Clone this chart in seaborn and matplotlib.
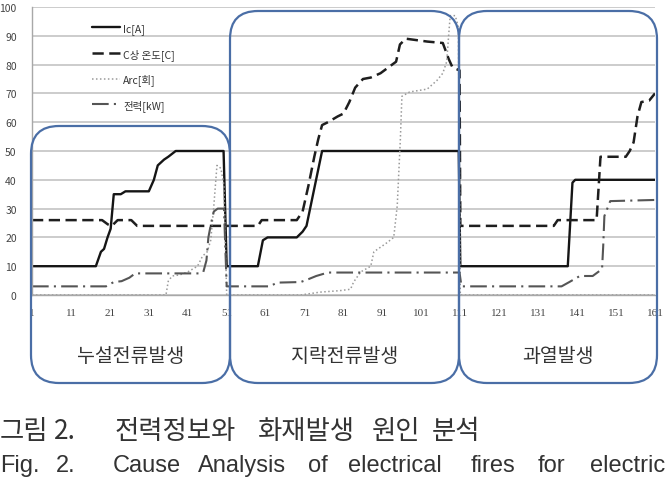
"""Electrical fire cause analysis chart (Ic, phase temperature, arc, power)."""

import matplotlib.pyplot as plt
import numpy as np
import seaborn as sns
from matplotlib.patches import FancyBboxPatch
from matplotlib.ticker import FixedLocator

# Ic[A]
ic_x = [1, 17.4, 18.7, 19.5, 20.4, 21.2, 22, 23.8, 25, 31, 32.3, 33.3, 34.9, 36, 37.9,
        50.2, 51, 59, 60.3, 61.5, 69, 70.5, 71.5, 75.5, 110.6, 111, 138.6, 139.8, 140.5, 161]
ic_y = [10, 10, 15, 16, 20, 23, 35, 35, 36, 36, 40, 45, 47, 48, 50,
        50, 10, 10, 19, 20, 20, 22, 24, 50, 50, 10, 10, 39, 40, 40]

# C상 온도[C]
temp_x = [1, 19, 20.5, 21.5, 23, 26.5, 28, 59, 60, 69, 70.5, 72, 73.5, 74.5, 75.5, 77,
          79.5, 81, 82.5, 84, 86, 88, 90.5, 93.5, 94.5, 95.5, 97, 102.5, 106.5, 108, 109,
          110.8, 111, 135, 136, 146, 147, 153.5, 154.5, 155.5, 156.5, 157.5, 159.5, 161]
temp_y = [26, 26, 24.5, 24, 26, 26, 24, 24, 26, 26, 29, 38, 48, 54, 59, 60,
          62, 63, 67, 72, 75, 75.5, 77, 80, 81, 87, 89, 88, 87.5, 82, 79,
          78, 24, 24, 26, 26, 48, 48, 50, 53, 62, 67, 67.5, 70]

# Arc[회]
arc_x = [1, 35.4, 36, 37, 39, 41, 43.5, 44.8, 46, 46.9, 47.7, 48.5, 49.5, 50.3, 51,
         70, 75, 80, 82.8, 83.6, 85.4, 88, 88.8, 92, 93.9, 94.8, 95.6, 96, 98, 102.5,
         105, 106.5, 107.5, 108, 108.4, 109.7, 110.5, 111, 161]
arc_y = [0, 0, 4.8, 6.6, 7, 8, 10, 13.5, 15, 19, 31, 45, 44, 38, 0,
         0, 1, 1.5, 2, 4.5, 8, 10, 15, 18, 20, 31, 54, 69, 70.5, 71.5,
         74.5, 77, 81, 90, 97, 97, 93, 0, 0]

# 전력[kW]
power_x = [1, 20, 22, 24, 26, 27.5, 44, 45, 45.8, 46.3, 47, 47.7, 48.7, 50.3, 51,
           62, 64, 70, 72, 74, 77, 110.8, 111.3, 137, 139, 141.7, 145, 147.4, 147.7,
           148, 149.5, 161]
power_y = [3, 3, 4.5, 4.8, 6, 7.5, 7.5, 8, 12, 20, 25, 29, 30, 30, 3,
           3, 4.3, 4.5, 5.5, 6.6, 7.8, 7.8, 3, 3, 4.5, 6.6, 6.6, 9, 17,
           27.4, 32.6, 33]

series_labels = ["Ic[A]", "C상 온도[C]", "Arc[회]", "전력[kW]"]
section_labels = ["누설전류발생", "지락전류발생", "과열발생"]
caption_ko = ["그림", "2.", "전력정보와", "화재발생", "원인", "분석"]
caption_en = ["Fig.", "2.", "Cause", "Analysis", "of", "electrical", "fires", "for", "electric"]

sns.set_style("white")
plt.rcParams["font.family"] = ["Noto Sans CJK KR", "DejaVu Sans"]

fig = plt.figure(figsize=(6.66, 4.85), dpi=100)
ax = fig.add_axes([32 / 666, 189 / 485, 623 / 666, 288 / 485])

styles = [
    dict(color="#151515", linewidth=1.7, linestyle="-"),
    dict(color="#1e1e1e", linewidth=1.8, linestyle=(0, (4.5, 2.2))),
    dict(color="#9a9a9a", linewidth=1.1, linestyle=(0, (1, 1.6))),
    dict(color="#555555", linewidth=1.5, linestyle=(0, (8, 2.5, 1, 2.5))),
]
data = [(ic_x, ic_y), (temp_x, temp_y), (arc_x, arc_y), (power_x, power_y)]
for (xs, ys), label, style in zip(data, series_labels, styles):
    sns.lineplot(x=xs, y=ys, ax=ax, label=label, estimator=None, sort=False, **style)

ax.set_xlim(1, 161)
ax.set_ylim(0, 100)
ax.set_xticks(range(1, 162, 10))
ax.xaxis.set_minor_locator(FixedLocator(np.arange(1, 161, 10 / 3)))
ax.set_yticks(range(0, 101, 10))
ax.grid(axis="y", color="#c4c4c4", linewidth=1.2)
ax.set_axisbelow(True)
for side in ["top", "right"]:
    ax.spines[side].set_visible(False)
for side in ["left", "bottom"]:
    ax.spines[side].set_color("#a8a8a8")
    ax.spines[side].set_linewidth(1.0)
ax.tick_params(axis="both", which="major", labelsize=7.5, labelcolor="#444444",
               color="#a8a8a8", length=4, direction="out", pad=5)
ax.tick_params(axis="x", which="minor", color="#b0b0b0", length=2.5, direction="out")
ax.tick_params(axis="y", pad=7)
for lbl in ax.get_xticklabels():
    lbl.set_family(["Liberation Serif", "DejaVu Serif"])
    lbl.set_fontsize(8)
ax.set_xlabel("")
ax.set_ylabel("")

ax.legend(loc="upper left", bbox_to_anchor=(0.096, 0.944), frameon=False, fontsize=7.5,
          handlelength=2.7, handletextpad=0.3, labelspacing=1.32, borderpad=0,
          borderaxespad=0, labelcolor="#333333")

# overlay in pixel units for the rounded phase boxes and the caption
ov = fig.add_axes([0, 0, 1, 1], zorder=5)
ov.set_xlim(0, 666)
ov.set_ylim(485, 0)
ov.axis("off")
ov.patch.set_alpha(0)

box_left = [31, 230, 459]
box_right = [230, 459, 657]
box_top = [127, 12, 12]
box_bottom = 384
for x0, x1, y0, text in zip(box_left, box_right, box_top, section_labels):
    ov.add_patch(FancyBboxPatch((x0, y0), x1 - x0, box_bottom - y0,
                                boxstyle="round,pad=0,rounding_size=28",
                                fill=False, edgecolor="#4a6ea6", linewidth=1.6))
    ov.text((x0 + x1) / 2, 357, text, ha="center", va="center", fontsize=14,
            color="#333333")

ko_pos = [0, 54, 115, 258, 372, 432]
for x, word in zip(ko_pos, caption_ko):
    ov.text(x, 432, word, ha="left", va="center", fontsize=19, color="#333333")
en_pos = [0, 56, 113, 198, 308, 348, 471, 538, 590]
for x, word in zip(en_pos, caption_en):
    ov.text(x, 466, word, ha="left", va="center", fontsize=17, color="#333333",
            family=["Liberation Sans Narrow", "Liberation Sans", "DejaVu Sans"])

fig.savefig("out.png", dpi=100)
plt.close(fig)
